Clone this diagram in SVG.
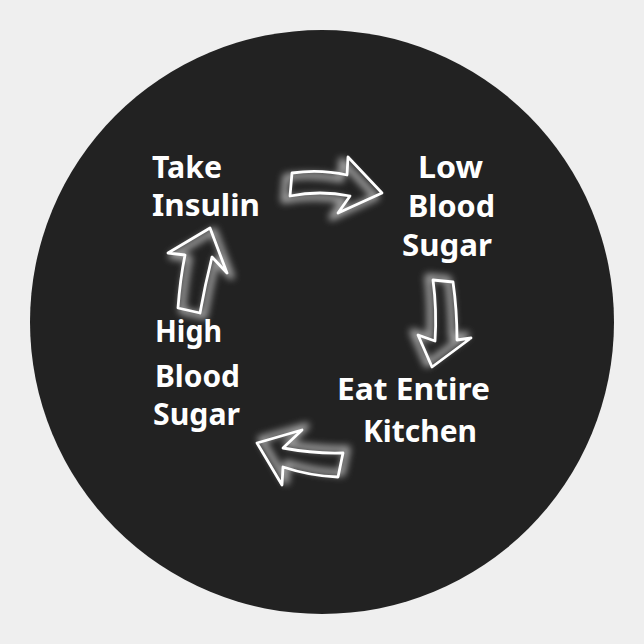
<svg xmlns="http://www.w3.org/2000/svg" width="644" height="644" viewBox="0 0 644 644">
<defs>
<filter id="glow" x="-50%" y="-50%" width="200%" height="200%"><feGaussianBlur stdDeviation="3.5"/></filter>
<style>
.t{font-family:"Noto Sans","DejaVu Sans",sans-serif;font-weight:bold;font-size:30px;fill:#ffffff}
.g{fill:none;stroke:#bdbdbd;stroke-width:7;stroke-linejoin:round;filter:url(#glow);opacity:0.8}
.a{fill:none;stroke:#ffffff;stroke-width:2.8;stroke-linejoin:round}
</style>
</defs>
<rect width="644" height="644" fill="#efefef"/>
<circle cx="322" cy="322" r="292" fill="#222222"/>
<g id="connectors">
<g id="arrow-top">
<path class="g" transform="translate(-6,4)" d="M 292 173 Q 320 169 347 175 L 348 157 L 382 193 L 338 213 L 350 196 Q 320 190 290 196 Z"/>
<path class="a" d="M 292 173 Q 320 169 347 175 L 348 157 L 382 193 L 338 213 L 350 196 Q 320 190 290 196 Z"/>
</g>
<g id="arrow-right">
<path class="g" transform="translate(-5,-3)" d="M 433 280 L 453 282 Q 457 310 457 340 L 471 338 L 432 367 L 418 335 L 435 341 Q 437 310 433 280 Z"/>
<path class="a" d="M 433 280 L 453 282 Q 457 310 457 340 L 471 338 L 432 367 L 418 335 L 435 341 Q 437 310 433 280 Z"/>
</g>
<g id="arrow-bottom">
<path class="g" transform="translate(4,-4)" d="M 257 443 L 302 430 L 283 448 Q 315 454 343 453 L 338 477 Q 310 476 283 467 L 282 485 Z"/>
<path class="a" d="M 257 443 L 302 430 L 283 448 Q 315 454 343 453 L 338 477 Q 310 476 283 467 L 282 485 Z"/>
</g>
<g id="arrow-left">
<path class="g" transform="translate(4,3)" d="M 210 228 L 227 273 L 212 257 Q 205 285 200 313 L 178 308 Q 180 280 185 255 L 168 253 Z"/>
<path class="a" d="M 210 228 L 227 273 L 212 257 Q 205 285 200 313 L 178 308 Q 180 280 185 255 L 168 253 Z"/>
</g>
</g>
<g id="take-insulin">
<text class="t" x="152" y="178" textLength="70" lengthAdjust="spacingAndGlyphs">Take</text>
<text class="t" x="152" y="216" textLength="108" lengthAdjust="spacingAndGlyphs">Insulin</text>
</g>
<g id="low-blood-sugar">
<text class="t" x="418" y="178" textLength="65" lengthAdjust="spacingAndGlyphs">Low</text>
<text class="t" x="408" y="217" textLength="87" lengthAdjust="spacingAndGlyphs">Blood</text>
<text class="t" x="402" y="256" textLength="90" lengthAdjust="spacingAndGlyphs">Sugar</text>
</g>
<g id="eat-entire-kitchen">
<text class="t" x="337" y="400" textLength="153" lengthAdjust="spacingAndGlyphs">Eat Entire</text>
<text class="t" x="363" y="442" textLength="114" lengthAdjust="spacingAndGlyphs">Kitchen</text>
</g>
<g id="high-blood-sugar">
<text class="t" x="155" y="342" textLength="67" lengthAdjust="spacingAndGlyphs">High</text>
<text class="t" x="155" y="387" textLength="85" lengthAdjust="spacingAndGlyphs">Blood</text>
<text class="t" x="153" y="425" textLength="87" lengthAdjust="spacingAndGlyphs">Sugar</text>
</g>
</svg>
